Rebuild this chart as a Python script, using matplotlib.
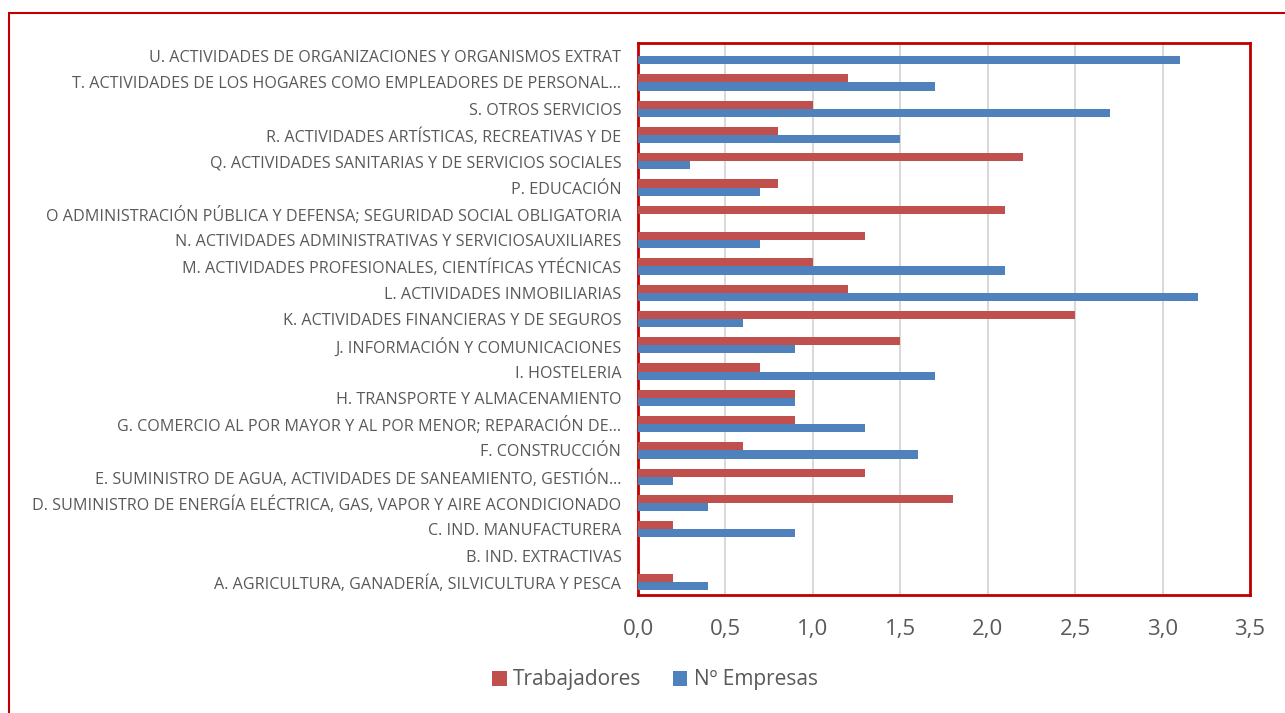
import numpy as np
import matplotlib.pyplot as plt
from matplotlib.patches import Rectangle

# Sectores (de abajo hacia arriba, como en el gráfico)
sectores = [
    "A. AGRICULTURA, GANADERÍA, SILVICULTURA Y PESCA",
    "B. IND. EXTRACTIVAS",
    "C. IND. MANUFACTURERA",
    "D. SUMINISTRO DE ENERGÍA ELÉCTRICA, GAS, VAPOR Y AIRE ACONDICIONADO",
    "E. SUMINISTRO DE AGUA, ACTIVIDADES DE SANEAMIENTO, GESTIÓN…",
    "F. CONSTRUCCIÓN",
    "G. COMERCIO AL POR MAYOR Y AL POR MENOR; REPARACIÓN DE…",
    "H. TRANSPORTE Y ALMACENAMIENTO",
    "I. HOSTELERIA",
    "J. INFORMACIÓN Y COMUNICACIONES",
    "K. ACTIVIDADES FINANCIERAS Y DE SEGUROS",
    "L. ACTIVIDADES INMOBILIARIAS",
    "M. ACTIVIDADES PROFESIONALES, CIENTÍFICAS YTÉCNICAS",
    "N. ACTIVIDADES ADMINISTRATIVAS Y SERVICIOSAUXILIARES",
    "O ADMINISTRACIÓN PÚBLICA Y DEFENSA; SEGURIDAD SOCIAL OBLIGATORIA",
    "P. EDUCACIÓN",
    "Q. ACTIVIDADES SANITARIAS Y DE SERVICIOS SOCIALES",
    "R. ACTIVIDADES ARTÍSTICAS, RECREATIVAS Y DE",
    "S. OTROS SERVICIOS",
    "T. ACTIVIDADES DE LOS HOGARES COMO EMPLEADORES DE PERSONAL…",
    "U. ACTIVIDADES DE ORGANIZACIONES Y ORGANISMOS EXTRAT",
]
trabajadores = [0.2, 0.0, 0.2, 1.8, 1.3, 0.6, 0.9, 0.9, 0.7, 1.5, 2.5,
                1.2, 1.0, 1.3, 2.1, 0.8, 2.2, 0.8, 1.0, 1.2, 0.0]
empresas = [0.4, 0.0, 0.9, 0.4, 0.2, 1.6, 1.3, 0.9, 1.7, 0.9, 0.6,
            3.2, 2.1, 0.7, 0.0, 0.7, 0.3, 1.5, 2.7, 1.7, 3.1]
xticks = [0.0, 0.5, 1.0, 1.5, 2.0, 2.5, 3.0, 3.5]
xtick_labels = ["0,0", "0,5", "1,0", "1,5", "2,0", "2,5", "3,0", "3,5"]

plt.rcParams['font.family'] = ['Open Sans', 'DejaVu Sans']
texto = "#595959"
rojo = "#C0504D"
azul = "#4F81BD"

fig = plt.figure(figsize=(12.85, 7.13), dpi=100)
ax = fig.add_axes([638 / 1285, 1 - 595 / 713, (1250 - 638) / 1285, (595 - 43) / 713])

y = np.arange(len(sectores))
h = 0.31
ax.barh(y + h / 2, trabajadores, height=h, color=rojo, linewidth=0,
        label="Trabajadores", zorder=3)
ax.barh(y - h / 2, empresas, height=h, color=azul, linewidth=0,
        label="Nº Empresas", zorder=3)

ax.set_xlim(0, 3.5)
ax.set_ylim(-0.5, len(sectores) - 0.5)
ax.set_xticks(xticks)
ax.set_xticklabels(xtick_labels, fontsize=16, color=texto)
ax.set_yticks(y)
ax.set_yticklabels(sectores, fontsize=11.6, color=texto)
ax.tick_params(axis="both", length=0)
ax.tick_params(axis="x", pad=17)
ax.tick_params(axis="y", pad=12)
ax.grid(axis="x", color="#D9D9D9", linewidth=1.5, zorder=0)
for s in ax.spines.values():
    s.set_color("#C00000")
    s.set_linewidth(2)

# borde exterior del gráfico
fig.patches.append(Rectangle((9 / 1285, -0.1), 2, 1 - 13.5 / 713 + 0.1,
                             transform=fig.transFigure, fill=False,
                             edgecolor="#C00000", linewidth=1.5))

leg = fig.legend(loc="center", bbox_to_anchor=(655 / 1285, 1 - 680 / 713),
                 ncol=2, frameon=False, fontsize=15, handlelength=0.7,
                 handleheight=0.7, columnspacing=1.5, handletextpad=0.3)
for t in leg.get_texts():
    t.set_color(texto)

plt.savefig("out.png", dpi=100)
